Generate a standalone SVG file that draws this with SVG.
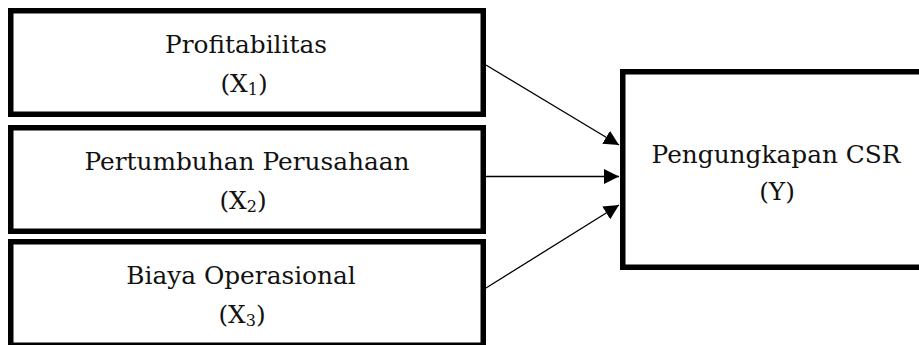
<svg xmlns="http://www.w3.org/2000/svg" width="919" height="345" viewBox="0 0 919 345">
  <defs>
    <style>
      .box { fill: #ffffff; stroke: #000000; stroke-width: 5.5; }
      .lbl { font-family: "DejaVu Serif", "Liberation Serif", serif; font-size: 24.8px; fill: #111111; text-anchor: middle; }
      .sub { font-size: 16px; }
      .edge { stroke: #000000; stroke-width: 1.3; fill: none; marker-end: url(#head); }
    </style>
    <marker id="head" markerUnits="userSpaceOnUse" markerWidth="16" markerHeight="16" refX="15" refY="7.5" orient="auto">
      <path d="M0,0 L15,7.5 L0,15 Z" fill="#000000"/>
    </marker>
  </defs>

  <rect width="919" height="345" fill="#ffffff"/>

  <g id="node-x1">
    <rect class="box" x="10.75" y="10.75" width="472.5" height="103.5"/>
    <text class="lbl" x="246" y="53">Profitabilitas</text>
    <text class="lbl" x="244" y="92">(X<tspan class="sub" dy="3">1</tspan><tspan dy="-3">)</tspan></text>
  </g>

  <g id="node-x2">
    <rect class="box" x="10.75" y="127.75" width="472.5" height="103.5"/>
    <text class="lbl" x="247" y="170">Pertumbuhan Perusahaan</text>
    <text class="lbl" x="243" y="209">(X<tspan class="sub" dy="3">2</tspan><tspan dy="-3">)</tspan></text>
  </g>

  <g id="node-x3">
    <rect class="box" x="10.75" y="241.75" width="472.5" height="103.5"/>
    <text class="lbl" x="241" y="284">Biaya Operasional</text>
    <text class="lbl" x="242" y="323">(X<tspan class="sub" dy="3">3</tspan><tspan dy="-3">)</tspan></text>
  </g>

  <g id="node-y">
    <rect class="box" x="622.75" y="71.75" width="400" height="195.5"/>
    <text class="lbl" x="776" y="163">Pengungkapan CSR</text>
    <text class="lbl" x="777" y="200">(Y)</text>
  </g>

  <g id="connectors">
    <line class="edge" x1="486" y1="65" x2="619" y2="145"/>
    <line class="edge" x1="486" y1="176.5" x2="619" y2="176.5"/>
    <line class="edge" x1="486" y1="288" x2="619" y2="205"/>
  </g>
</svg>
